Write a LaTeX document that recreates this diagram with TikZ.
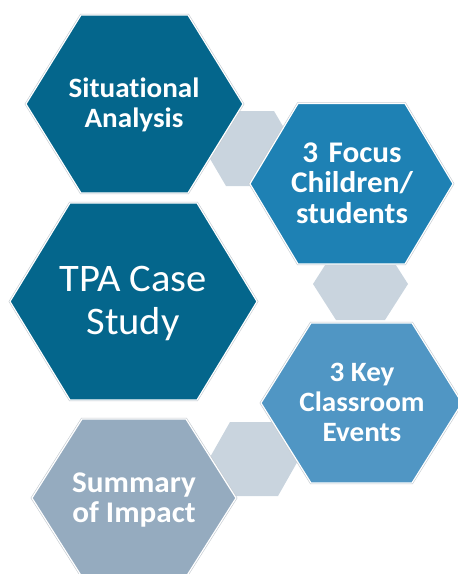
\documentclass[tikz,border=0pt]{standalone}
\usepackage{fontspec}
\setmainfont[FakeStretch=1.04,Ligatures=NoCommon]{Carlito}
\definecolor{deep}{HTML}{04668C}
\definecolor{mid}{HTML}{1E81B4}
\definecolor{soft}{HTML}{5096C4}
\definecolor{slate}{HTML}{95ABBF}
\definecolor{pale}{HTML}{C9D4DE}
\definecolor{rim}{HTML}{C4CAD0}
\tikzset{
  x=1pt,y=-1pt,
  hexrim/.style={draw=rim,line width=2.4pt,line join=miter},
  hexbody/.style={draw=white,line width=1.2pt,line join=miter},
  linkhex/.style={fill=pale,draw=none},
  label/.style={text=white,align=center,inner sep=0pt,font=\fontsize{28}{30}\selectfont\bfseries},
  widelabel/.style={text=white,align=center,inner sep=0pt,font=\fontsize{30}{30.5}\selectfont\bfseries},
  biglabel/.style={text=white,align=center,inner sep=0pt,font=\fontsize{39}{43}\selectfont}
}
\newcommand{\hexa}[6]{% left, right, top, bottom, inset, colour
  \path[hexrim,fill=#6] (#1+#5,#3) -- (#2-#5,#3) -- (#2,{(#3+#4)/2}) -- (#2-#5,#4) -- (#1+#5,#4) -- (#1,{(#3+#4)/2}) -- cycle;
  \path[hexbody,fill=#6] (#1+#5,#3) -- (#2-#5,#3) -- (#2,{(#3+#4)/2}) -- (#2-#5,#4) -- (#1+#5,#4) -- (#1,{(#3+#4)/2}) -- cycle;
}
\begin{document}
\begin{tikzpicture}
\useasboundingbox (0,0) rectangle (458,574);
\begin{scope}
\clip (0,0) rectangle (458,574);
% small link hexagons
\path[linkhex] (226,111) -- (274,111) -- (296,148.5) -- (274,186) -- (226,186) -- (204,148.5) -- cycle;
\path[linkhex] (336,248) -- (385,248) -- (408,284) -- (385,320) -- (336,320) -- (313,284) -- cycle;
\path[linkhex] (230,422) -- (278,422) -- (299,459) -- (278,496) -- (230,496) -- (209,459) -- cycle;
% main hexagons
\hexa{26}{243}{15}{193}{55}{deep}
\hexa{250}{453}{103.5}{264}{48}{mid}
\hexa{10}{257}{203}{400}{60}{deep}
\hexa{261}{462}{323}{483}{50}{soft}
\hexa{32}{236}{419}{577}{50}{slate}
\end{scope}
% labels
\node[label] (situational) at (134,105) {Situational\\Analysis};
\node[widelabel] (focus) at (352,183) {3\hspace{0.35em}Focus\\Children/\\students};
\node[biglabel] (tpa) at (133,303.5) {TPA Case\\Study};
\node[label] (events) at (362,402.5) {3 Key\\Classroom\\Events};
\node[widelabel] (summary) at (134,500) {Summary\\of Impact};
\end{tikzpicture}
\end{document}
